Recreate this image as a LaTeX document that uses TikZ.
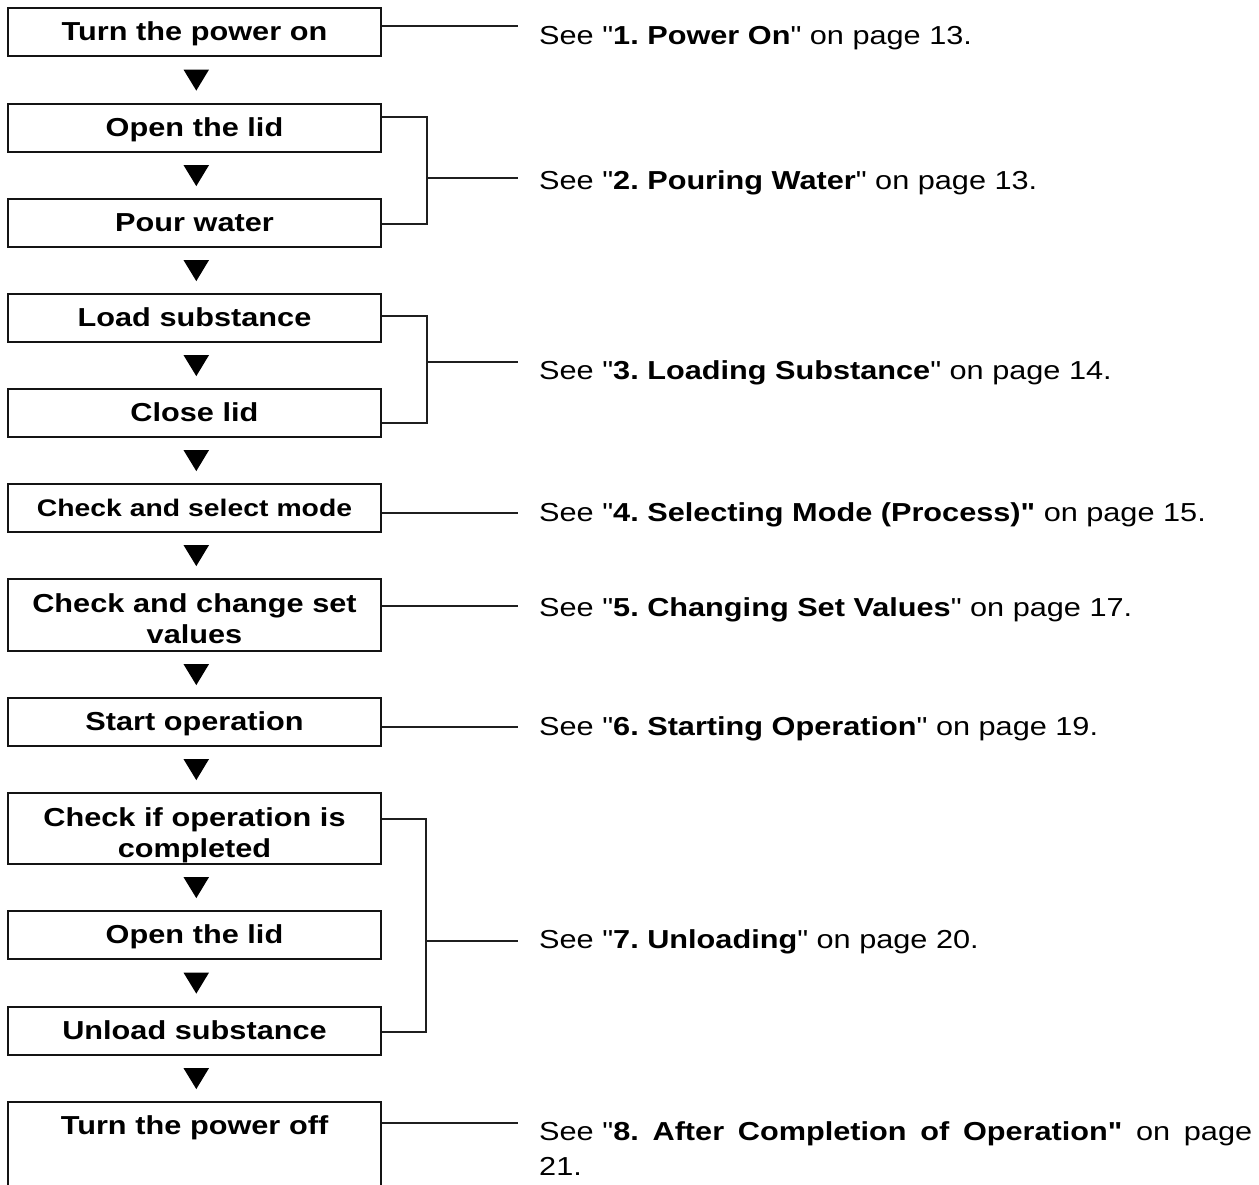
\documentclass[tikz,border=0pt]{standalone}
\usepackage{fontspec}
\setmainfont{Liberation Sans}[FakeStretch=1.18, Ligatures=TeXOff]
\usetikzlibrary{calc}
\frenchspacing
\tikzset{
  box/.style={draw=black!92, line width=2.2pt, inner xsep=0pt, inner ysep=0pt,
    minimum width=373pt, text width=373pt, align=center, anchor=north,
    font=\bfseries\fontsize{26}{31}\selectfont, text height=32pt, text depth=16pt},
  seetext/.style={anchor=base west, inner sep=0pt, font=\fontsize{26}{35}\selectfont},
  conn/.style={draw=black!88, line width=1.7pt},
  tri/.style={fill=black}
}
\begin{document}
\begin{tikzpicture}[x=1pt,y=-1pt]
\fill[white] (0,0) rectangle (1259,1184);
\clip (0,0) rectangle (1259,1184);

% boxes
\node[box] (b1) at (194.5,7) {Turn the power on};
\node[box] (b2) at (194.5,103) {Open the lid};
\node[box] (b3) at (194.5,198) {Pour water};
\node[box] (b4) at (194.5,293) {Load substance};
\node[box] (b5) at (194.5,388) {Close lid};
\node[box, font=\bfseries\fontsize{24}{31}\selectfont] (b6) at (194.5,483) {Check and select mode};
\node[box, text height=33pt, text depth=39pt] (b7) at (194.5,578) {Check and change set\\values};
\node[box] (b8) at (194.5,697) {Start operation};
\node[box, text height=33pt, text depth=38pt] (b9) at (194.5,792) {Check if operation is\\completed};
\node[box] (b10) at (194.5,910) {Open the lid};
\node[box] (b11) at (194.5,1006) {Unload substance};
\node[box, text depth=130pt] (b12) at (194.5,1101) {Turn the power off};

% flow triangles
\foreach \a/\b in {b1/b2,b2/b3,b3/b4,b4/b5,b5/b6,b6/b7,b7/b8,b8/b9,b9/b10,b10/b11,b11/b12}{
  \path (\a.south) -- (\b.north) coordinate[pos=0.5] (m);
  \fill[tri] ($(m)+(-11,-10.5)$) -- ($(m)+(14.5,-10.5)$) -- ($(m)+(1.8,10.5)$) -- cycle;
}

% texts
\node[seetext] (s1) at (539,44) {See "\textbf{1. Power On}" on page 13.};
\node[seetext] (s2) at (539,189) {See "\textbf{2. Pouring Water}" on page 13.};
\node[seetext] (s3) at (539,379) {See "\textbf{3. Loading Substance}" on page 14.};
\node[seetext] (s4) at (539,521) {See "\textbf{4. Selecting Mode (Process)"} on page 15.};
\node[seetext] (s5) at (539,616) {See "\textbf{5. Changing Set Values}" on page 17.};
\node[seetext] (s6) at (539,735) {See "\textbf{6. Starting Operation}" on page 19.};
\node[seetext] (s7) at (539,948) {See "\textbf{7. Unloading}" on page 20.};
\node[seetext, text width=720pt, align=left] (s8) at (539,1140)
  {\makebox[713pt][s]{See "\textbf{8.}\hfill\textbf{After}\hfill\textbf{Completion}\hfill\textbf{of}\hfill\textbf{Operation"}\hfill on\hfill page}\\21.};

% connector ends
\coordinate (e1) at (518,26);
\coordinate (e2) at (518,178);
\coordinate (e3) at (518,362);
\coordinate (e4) at (518,513);
\coordinate (e5) at (518,606);
\coordinate (e6) at (518,727);
\coordinate (e7) at (518,941);
\coordinate (e8) at (518,1123);

% single connectors
\draw[conn] (b1.east |- e1) -- (e1);
\draw[conn] (b6.east |- e4) -- (e4);
\draw[conn] (b7.east |- e5) -- (e5);
\draw[conn] (b8.east |- e6) -- (e6);
\draw[conn] (b12.east |- e8) -- (e8);

% bracket 2-3
\coordinate (k2t) at (427,117);
\coordinate (k2b) at (427,224);
\draw[conn] (b2.east |- k2t) -- (k2t) -- (k2b) -- (b3.east |- k2b);
\draw[conn] (k2t |- e2) -- (e2);

% bracket 4-5
\coordinate (k3t) at (427,316);
\coordinate (k3b) at (427,423);
\draw[conn] (b4.east |- k3t) -- (k3t) -- (k3b) -- (b5.east |- k3b);
\draw[conn] (k3t |- e3) -- (e3);

% bracket 9-11
\coordinate (k7t) at (426,819);
\coordinate (k7b) at (426,1032);
\draw[conn] (b9.east |- k7t) -- (k7t) -- (k7b) -- (b11.east |- k7b);
\draw[conn] (k7t |- e7) -- (e7);
\end{tikzpicture}
\end{document}
